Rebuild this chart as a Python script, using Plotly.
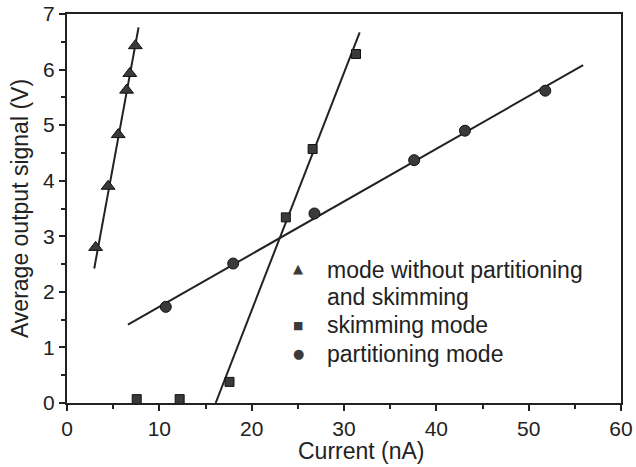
import plotly.graph_objects as go

# Data
tri_x = [3.1, 4.45, 5.55, 6.45, 6.8, 7.4]
tri_y = [2.8, 3.9, 4.83, 5.63, 5.93, 6.43]
tri_fit_x = [2.95, 7.75]
tri_fit_y = [2.42, 6.76]

sq_x = [7.55, 12.2, 17.6, 23.7, 26.6, 31.3]
sq_y = [0.07, 0.07, 0.38, 3.34, 4.57, 6.28]
sq_fit_x = [16.1, 31.7]
sq_fit_y = [0.0, 6.67]

ci_x = [10.7, 18.0, 26.8, 37.6, 43.1, 51.8]
ci_y = [1.73, 2.51, 3.41, 4.37, 4.9, 5.62]
ci_fit_x = [6.6, 55.9]
ci_fit_y = [1.41, 6.08]

legend_lines = ["mode without partitioning", "and skimming", "skimming mode", "partitioning mode"]
legend_symbols = ["▲", "■", "●"]

FONT = "Liberation Sans, Arial, sans-serif"
INK = "#222222"
MARK = "#3a3a3a"

fig = go.Figure()
for fx, fy in [(tri_fit_x, tri_fit_y), (sq_fit_x, sq_fit_y), (ci_fit_x, ci_fit_y)]:
    fig.add_trace(go.Scatter(x=fx, y=fy, mode="lines", line=dict(color=INK, width=2),
                             showlegend=False, hoverinfo="skip"))

fig.add_trace(go.Scatter(x=tri_x, y=tri_y, mode="markers", showlegend=False,
                         marker=dict(symbol="triangle-up", size=12, color=MARK,
                                     line=dict(color="#111", width=1))))
fig.add_trace(go.Scatter(x=sq_x, y=sq_y, mode="markers", showlegend=False,
                         marker=dict(symbol="square", size=9, color=MARK,
                                     line=dict(color="#111", width=1))))
fig.add_trace(go.Scatter(x=ci_x, y=ci_y, mode="markers", showlegend=False,
                         marker=dict(symbol="circle", size=11, color=MARK,
                                     line=dict(color="#111", width=1))))

axis_common = dict(showgrid=False, zeroline=False, showline=True, linecolor=INK,
                   linewidth=2, mirror=True, ticks="outside", ticklen=6, tickwidth=1.5,
                   tickcolor=INK, tickfont=dict(family=FONT, size=21, color=INK),
                   automargin=False)

fig.update_xaxes(range=[0, 60], dtick=10, tick0=0,
                 minor=dict(dtick=5, ticks="outside", ticklen=4, tickcolor=INK, tickwidth=1.5),
                 **axis_common)
fig.update_yaxes(range=[0, 7], dtick=1, tick0=0,
                 minor=dict(dtick=0.5, ticks="outside", ticklen=4, tickcolor=INK, tickwidth=1.5),
                 title=dict(text="Average output signal (V)",
                            font=dict(family=FONT, size=23, color=INK), standoff=8),
                 **axis_common)

# x-axis title (placed as in the reference, slightly right of centre)
fig.add_annotation(text="Current (nA)", xref="paper", yref="paper", x=0.531, y=-0.123,
                   xanchor="center", yanchor="middle", showarrow=False,
                   font=dict(family=FONT, size=23, color=INK))

# Manual legend
text_x = 0.4657
text_ys = [0.342, 0.2725, 0.2005, 0.126]
for t, yy in zip(legend_lines, text_ys):
    fig.add_annotation(text=t, xref="paper", yref="paper", x=text_x, y=yy,
                       xanchor="left", yanchor="middle", showarrow=False,
                       font=dict(family=FONT, size=23, color=INK))
sym_x = 0.417
sym_ys = [0.345, 0.2005, 0.128]
sym_sizes = [13, 11, 13]
for s, yy, fs in zip(legend_symbols, sym_ys, sym_sizes):
    fig.add_annotation(text=s, xref="paper", yref="paper", x=sym_x, y=yy,
                       xanchor="center", yanchor="middle", showarrow=False,
                       font=dict(family="DejaVu Sans", size=fs, color=MARK))

fig.update_layout(
    width=636, height=467,
    margin=dict(l=67, r=15, t=14, b=64, autoexpand=False),
    paper_bgcolor="white", plot_bgcolor="white",
    showlegend=False,
)

fig.write_html("out.html")
